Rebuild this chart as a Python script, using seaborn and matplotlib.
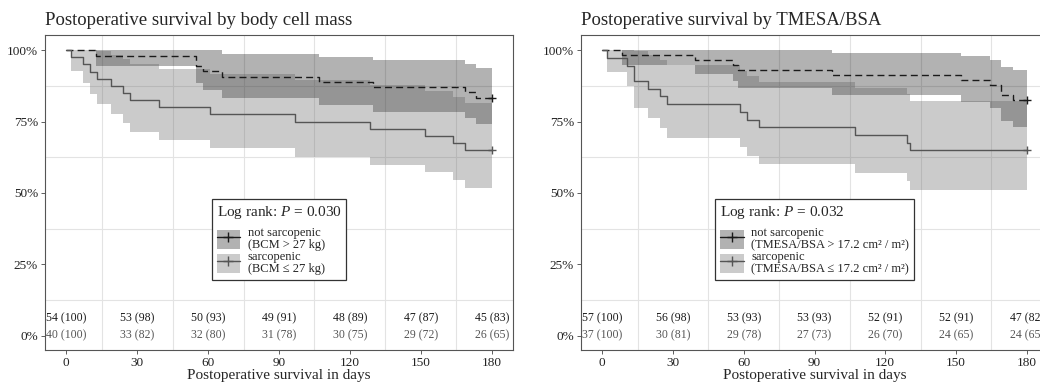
import pandas as pd
import matplotlib
matplotlib.use("Agg")
import matplotlib.pyplot as plt
import seaborn as sns
from matplotlib.patches import Patch
from matplotlib.lines import Line2D

# --- data ---------------------------------------------------------------
risk_days = [0, 30, 60, 90, 120, 150, 180]

# body cell mass: not sarcopenic
bcm_ns_days = [0, 12.7, 54.7, 57.8, 65.8, 107.0, 129.7, 168.8, 173.5, 180]
bcm_ns_surv = [1.0, 0.981, 0.944, 0.926, 0.907, 0.889, 0.870, 0.852, 0.833, 0.833]
bcm_ns_lower = [1.0, 0.946, 0.885, 0.859, 0.833, 0.809, 0.785, 0.762, 0.740, 0.740]
bcm_ns_upper = [1.0, 1.0, 1.0, 0.999, 0.988, 0.977, 0.965, 0.952, 0.939, 0.939]
# body cell mass: sarcopenic
bcm_s_days = [0, 2.1, 7.0, 10.2, 12.9, 19.0, 24.0, 27.1, 39.1, 60.9, 96.9, 128.7, 151.6, 163.6, 168.5, 180]
bcm_s_surv = [1.0, 0.975, 0.95, 0.925, 0.90, 0.875, 0.85, 0.825, 0.80, 0.775, 0.75, 0.725, 0.70, 0.675, 0.65, 0.65]
bcm_s_lower = [1.0, 0.928, 0.885, 0.847, 0.812, 0.778, 0.746, 0.715, 0.685, 0.656, 0.627, 0.599, 0.572, 0.544, 0.518, 0.518]
bcm_s_upper = [1.0, 1.0, 1.0, 1.0, 0.998, 0.984, 0.968, 0.952, 0.934, 0.916, 0.897, 0.878, 0.858, 0.837, 0.816, 0.816]

# TMESA/BSA: not sarcopenic
tm_ns_days = [0, 8.2, 39.2, 55.5, 57.6, 97.4, 152.2, 164.2, 169.0, 174.0, 180]
tm_ns_surv = [1.0, 0.982, 0.965, 0.947, 0.930, 0.912, 0.895, 0.877, 0.842, 0.825, 0.825]
tm_ns_lower = [1.0, 0.949, 0.918, 0.891, 0.866, 0.842, 0.819, 0.796, 0.753, 0.732, 0.732]
tm_ns_upper = [1.0, 1.0, 1.0, 1.0, 0.999, 0.989, 0.978, 0.967, 0.942, 0.930, 0.930]
# TMESA/BSA: sarcopenic
tm_s_days = [0, 2.1, 10.3, 13.4, 19.3, 24.3, 27.5, 58.3, 61.4, 66.4, 107.3, 129.2, 130.3, 180]
tm_s_surv = [1.0, 0.973, 0.946, 0.892, 0.865, 0.838, 0.811, 0.784, 0.757, 0.730, 0.703, 0.676, 0.649, 0.649]
tm_s_lower = [1.0, 0.922, 0.876, 0.797, 0.761, 0.727, 0.694, 0.662, 0.630, 0.600, 0.570, 0.541, 0.512, 0.512]
tm_s_upper = [1.0, 1.0, 1.0, 0.998, 0.982, 0.966, 0.947, 0.928, 0.909, 0.888, 0.867, 0.845, 0.822, 0.822]

# numbers at risk (percent)
bcm_ns_risk = [54, 53, 50, 49, 48, 47, 45]
bcm_ns_pct = [100, 98, 93, 91, 89, 87, 83]
bcm_s_risk = [40, 33, 32, 31, 30, 29, 26]
bcm_s_pct = [100, 82, 80, 78, 75, 72, 65]
tm_ns_risk = [57, 56, 53, 53, 52, 52, 47]
tm_ns_pct = [100, 98, 93, 93, 91, 91, 82]
tm_s_risk = [37, 30, 29, 27, 26, 24, 24]
tm_s_pct = [100, 81, 78, 73, 70, 65, 65]

# --- styling -------------------------------------------------------------
sns.set_theme(style="white")
plt.rcParams['font.family'] = ['Liberation Serif', 'DejaVu Serif']
plt.rcParams['mathtext.fontset'] = 'custom'
plt.rcParams['mathtext.rm'] = 'Liberation Serif'
plt.rcParams['mathtext.it'] = 'Liberation Serif:italic'

NS_COL = '#1a1a1a'
S_COL = '#555555'
NS_FILL = 'black'
S_FILL = '#555555'
ALPHA = 0.3


def drawCurve(ax, days, surv, lower, upper, col, fill, ls):
    ax.fill_between(days, lower, upper, step='post', color=fill, alpha=ALPHA, lw=0)
    df = pd.DataFrame({'day': days, 'surv': surv})
    sns.lineplot(data=df, x='day', y='surv', ax=ax, drawstyle='steps-post', color=col,
                 lw=1.0, linestyle=ls, estimator=None, sort=False)
    ax.plot([days[-1]], [surv[-1]], marker='+', ms=6, mew=1.0, color=col, ls='none')


def drawPanel(ax, title, ns, s, ns_risk, ns_pct, s_risk, s_pct, pval, labels):
    drawCurve(ax, *ns, NS_COL, NS_FILL, (0, (5, 3)))
    drawCurve(ax, *s, S_COL, S_FILL, '-')

    for d, n, p in zip(risk_days, ns_risk, ns_pct):
        ax.text(d, 0.061, f"{n} ({p})", ha='center', va='center', fontsize=8.5, color=NS_COL)
    for d, n, p in zip(risk_days, s_risk, s_pct):
        ax.text(d, 0.0, f"{n} ({p})", ha='center', va='center', fontsize=8.5, color=S_COL)

    ax.set_xlim(-9, 189)
    ax.set_ylim(-0.05, 1.053)
    ax.set_xticks(risk_days)
    ax.set_yticks([0, 0.25, 0.5, 0.75, 1.0])
    ax.set_yticklabels(['0%', '25%', '50%', '75%', '100%'])
    ax.set_xticks(range(15, 180, 30), minor=True)
    ax.set_yticks([0.125, 0.375, 0.625, 0.875], minor=True)
    ax.grid(which='minor', color='#e3e3e3', lw=0.8)
    ax.grid(which='major', visible=False)
    ax.set_axisbelow(True)
    ax.tick_params(which='major', bottom=True, left=True, length=3, width=0.6,
                   color='#444444', labelsize=9.5, pad=2, labelcolor='#222222')
    ax.tick_params(which='minor', length=0)
    for sp in ax.spines.values():
        sp.set_color('#555555')
        sp.set_linewidth(0.8)
    ax.set_ylabel('')
    ax.set_xlabel('Postoperative survival in days', fontsize=11, labelpad=0)
    ax.set_title(title, loc='left', fontsize=13.5, pad=7)

    handles = [
        (Patch(facecolor=NS_FILL, alpha=ALPHA, lw=0),
         Line2D([], [], color=NS_COL, lw=1, marker='+', ms=7)),
        (Patch(facecolor=S_FILL, alpha=ALPHA, lw=0),
         Line2D([], [], color=S_COL, lw=1, marker='+', ms=7)),
    ]
    leg = ax.legend(handles, labels, loc='center', bbox_to_anchor=(0.5, 0.35),
                    title=f"Log rank: $P$ = {pval}", title_fontsize=11, fontsize=9,
                    fancybox=False, edgecolor='#333333', framealpha=1, numpoints=1,
                    handlelength=1.9, handleheight=1.95, labelspacing=0.0,
                    handletextpad=0.6, borderpad=0.4, borderaxespad=0,
                    alignment='left')
    leg._legend_box.sep = 4
    leg.get_frame().set_linewidth(0.9)
    for t in leg.get_texts():
        t.set_linespacing(1.0)


fig = plt.figure(figsize=(10.4, 3.84), dpi=100)
ax1 = fig.add_axes([45 / 1040, 34 / 384, 468 / 1040, 315 / 384])
ax2 = fig.add_axes([581 / 1040, 34 / 384, 467 / 1040, 315 / 384])

drawPanel(ax1, 'Postoperative survival by body cell mass',
          (bcm_ns_days, bcm_ns_surv, bcm_ns_lower, bcm_ns_upper),
          (bcm_s_days, bcm_s_surv, bcm_s_lower, bcm_s_upper),
          bcm_ns_risk, bcm_ns_pct, bcm_s_risk, bcm_s_pct, '0.030',
          ['not sarcopenic\n(BCM > 27 kg)', 'sarcopenic\n(BCM ≤ 27 kg)'])
drawPanel(ax2, 'Postoperative survival by TMESA/BSA',
          (tm_ns_days, tm_ns_surv, tm_ns_lower, tm_ns_upper),
          (tm_s_days, tm_s_surv, tm_s_lower, tm_s_upper),
          tm_ns_risk, tm_ns_pct, tm_s_risk, tm_s_pct, '0.032',
          ['not sarcopenic\n(TMESA/BSA > 17.2 cm² / m²)', 'sarcopenic\n(TMESA/BSA ≤ 17.2 cm² / m²)'])

fig.savefig('out.png', dpi=100)
